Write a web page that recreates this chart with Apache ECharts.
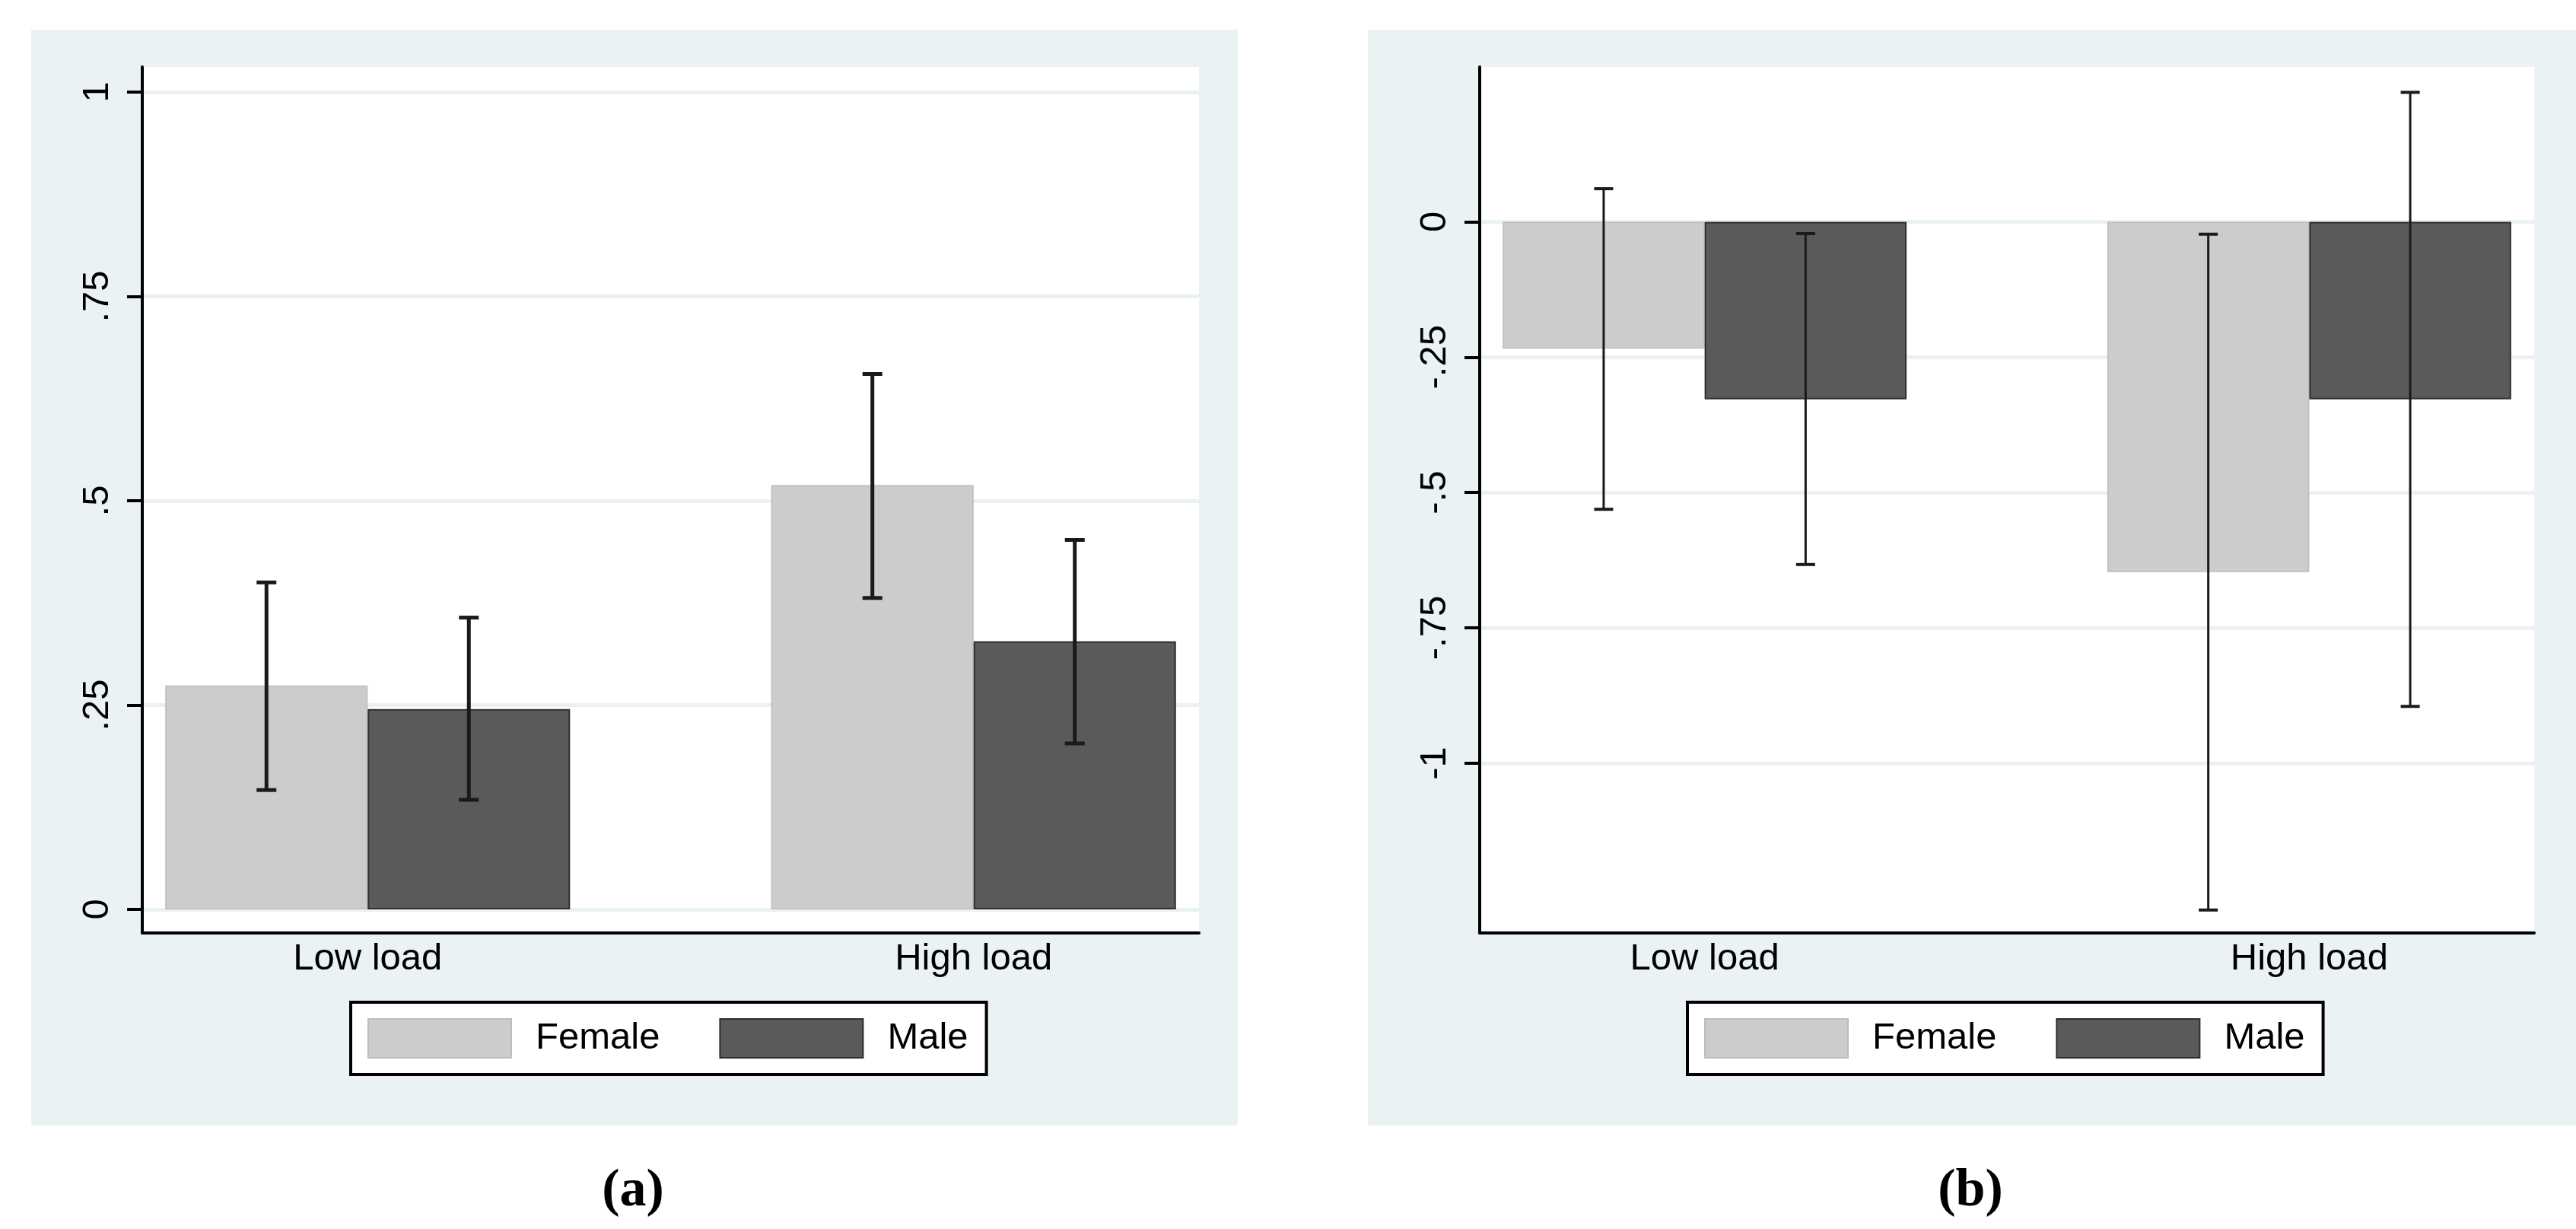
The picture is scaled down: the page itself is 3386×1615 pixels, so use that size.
<!DOCTYPE html>
<html>
<head>
<meta charset="utf-8">
<script src="https://cdn.jsdelivr.net/npm/echarts@6/dist/echarts.min.js"></script>
<style>
html,body{margin:0;padding:0;background:#fff;}
#chart{width:3386px;height:1615px;}
</style>
</head>
<body>
<div id="chart"></div>
<script>
// ---- data ----
const categories = ['Low load', 'High load'];
const seriesNames = ['Female', 'Male'];

// panel (a)
const femaleA    = [0.274, 0.519];
const femaleA_lo = [0.146, 0.381];
const femaleA_hi = [0.400, 0.655];
const maleA      = [0.245, 0.328];
const maleA_lo   = [0.134, 0.203];
const maleA_hi   = [0.357, 0.452];

// panel (b)
const femaleB    = [-0.234, -0.647];
const femaleB_lo = [-0.531, -1.271];
const femaleB_hi = [0.061, -0.023];
const maleB      = [-0.328, -0.328];
const maleB_lo   = [-0.633, -0.895];
const maleB_hi   = [-0.022, 0.239];

// tick values and labels
const yTicksA = [0, 0.25, 0.5, 0.75, 1];
const yTickLabelsA = ['0', '.25', '.5', '.75', '1'];
const yTicksB = [0, -0.25, -0.5, -0.75, -1];
const yTickLabelsB = ['0', '-.25', '-.5', '-.75', '-1'];

// ---- styling ----
const FONT = 'Liberation Sans, Arial, Helvetica, sans-serif';
const BG = '#eaf2f3';
const FEMALE_COLOR = '#cccccc';
const MALE_COLOR = '#5a5a5a';
const BAR_FRAC = 0.334;

const chart = echarts.init(document.getElementById('chart'), null, {renderer: 'canvas'});

function barData(vals) { return vals.map((v, i) => [i + 1, v]); }
function errData(lo, hi) { return lo.map((l, i) => [i + 1, l, hi[i]]); }

function makeErr(sign, capHalf, lw, capLw) {
  return function (params, api) {
    const x = api.value(0), lo = api.value(1), hi = api.value(2);
    const band = api.size([1, 0])[0];
    const off = sign * band * BAR_FRAC / 2;
    const pLo = api.coord([x, lo]);
    const pHi = api.coord([x, hi]);
    const cx = pLo[0] + off;
    const st = {stroke: '#1a1a1a', lineWidth: lw};
    const cst = {stroke: '#1a1a1a', lineWidth: capLw};
    return {
      type: 'group',
      children: [
        {type: 'line', shape: {x1: cx, y1: pHi[1], x2: cx, y2: pLo[1]}, style: st},
        {type: 'line', shape: {x1: cx - capHalf, y1: pHi[1], x2: cx + capHalf, y2: pHi[1]}, style: cst},
        {type: 'line', shape: {x1: cx - capHalf, y1: pLo[1], x2: cx + capHalf, y2: pLo[1]}, style: cst}
      ]
    };
  };
}

function xAxisDef(gridIndex) {
  return {
    type: 'value', gridIndex: gridIndex,
    min: 0.628, max: 2.372,
    axisLine: {show: true, onZero: false, lineStyle: {color: '#000', width: 4}},
    axisTick: {show: false},
    splitLine: {show: false},
    axisLabel: {
      show: true, customValues: [1, 2],
      formatter: v => categories[Math.round(v) - 1] || '',
      color: '#000', fontFamily: FONT, fontSize: 49, margin: 10
    }
  };
}

function yAxisDef(gridIndex, min, max, ticks, labels) {
  return {
    type: 'value', gridIndex: gridIndex,
    min: min, max: max,
    axisLine: {show: true, onZero: false, lineStyle: {color: '#000', width: 4}},
    axisTick: {show: true, length: 20, customValues: ticks, lineStyle: {color: '#000', width: 4}},
    splitLine: {show: true, customValues: ticks, lineStyle: {color: '#e9f1f1', width: 5}},
    axisLabel: {
      show: true, customValues: ticks, rotate: 90,
      formatter: v => { const i = ticks.findIndex(t => Math.abs(t - v) < 1e-6); return i >= 0 ? labels[i] : ''; },
      color: '#000', fontFamily: FONT, fontSize: 49, margin: 34
    }
  };
}

function barSeries(name, vals, xi, color, border, bw) {
  return {
    name: name, type: 'bar', xAxisIndex: xi, yAxisIndex: xi,
    data: barData(vals),
    barWidth: (BAR_FRAC * 100) + '%', barGap: '0%',
    itemStyle: {color: color, borderColor: border, borderWidth: bw},
    emphasis: {disabled: true},
    z: 2
  };
}

function errSeries(lo, hi, xi, sign, capHalf, lw, capLw) {
  return {
    type: 'custom', xAxisIndex: xi, yAxisIndex: xi,
    data: errData(lo, hi),
    encode: {x: 0, y: [1, 2]},
    renderItem: makeErr(sign, capHalf, lw, capLw),
    z: 5, silent: true
  };
}

function legendDef(left) {
  return {
    data: seriesNames,
    left: left, top: 1317,
    orient: 'horizontal',
    backgroundColor: '#fff',
    borderColor: '#000', borderWidth: 4, borderRadius: 0,
    padding: [21, 24, 21, 22],
    itemWidth: 188, itemHeight: 51, itemGap: 78,
    icon: 'rect',
    selectedMode: false,
    textStyle: {color: '#000', fontFamily: FONT, fontSize: 49, lineHeight: 42, padding: [8, 0, 0, 27]}
  };
}

const option = {
  backgroundColor: '#fff',
  animation: false,
  graphic: [
    {type: 'rect', z: -100, shape: {x: 41, y: 39, width: 1586, height: 1440}, style: {fill: BG}},
    {type: 'rect', z: -100, shape: {x: 1798, y: 39, width: 1588, height: 1440}, style: {fill: BG}},
    {type: 'text', z: 10, style: {x: 832, y: 1566, text: '(a)', textAlign: 'center', textVerticalAlign: 'middle', font: 'bold 70px "Liberation Serif", serif', fill: '#000'}},
    {type: 'text', z: 10, style: {x: 2590, y: 1566, text: '(b)', textAlign: 'center', textVerticalAlign: 'middle', font: 'bold 70px "Liberation Serif", serif', fill: '#000'}}
  ],
  grid: [
    {left: 187, top: 88, width: 1389, height: 1138, show: true, backgroundColor: '#fff', borderWidth: 0, containLabel: false},
    {left: 1945, top: 88, width: 1386, height: 1138, show: true, backgroundColor: '#fff', borderWidth: 0, containLabel: false}
  ],
  xAxis: [xAxisDef(0), xAxisDef(1)],
  yAxis: [
    yAxisDef(0, -0.0289, 1.0307, yTicksA, yTickLabelsA),
    yAxisDef(1, -1.3134, 0.2858, yTicksB, yTickLabelsB)
  ],
  legend: [legendDef(461), legendDef(2218)],
  series: [
    barSeries('Female', femaleA, 0, FEMALE_COLOR, '#bcbcbc', 1.5),
    barSeries('Male', maleA, 0, MALE_COLOR, '#2e2e2e', 2),
    barSeries('Female', femaleB, 1, FEMALE_COLOR, '#bcbcbc', 1.5),
    barSeries('Male', maleB, 1, MALE_COLOR, '#2e2e2e', 2),
    errSeries(femaleA_lo, femaleA_hi, 0, -1, 13, 5, 5),
    errSeries(maleA_lo, maleA_hi, 0, 1, 13, 5, 5),
    errSeries(femaleB_lo, femaleB_hi, 1, -1, 12.5, 3, 4),
    errSeries(maleB_lo, maleB_hi, 1, 1, 12.5, 3, 4)
  ]
};
chart.setOption(option);
</script>
</body>
</html>
